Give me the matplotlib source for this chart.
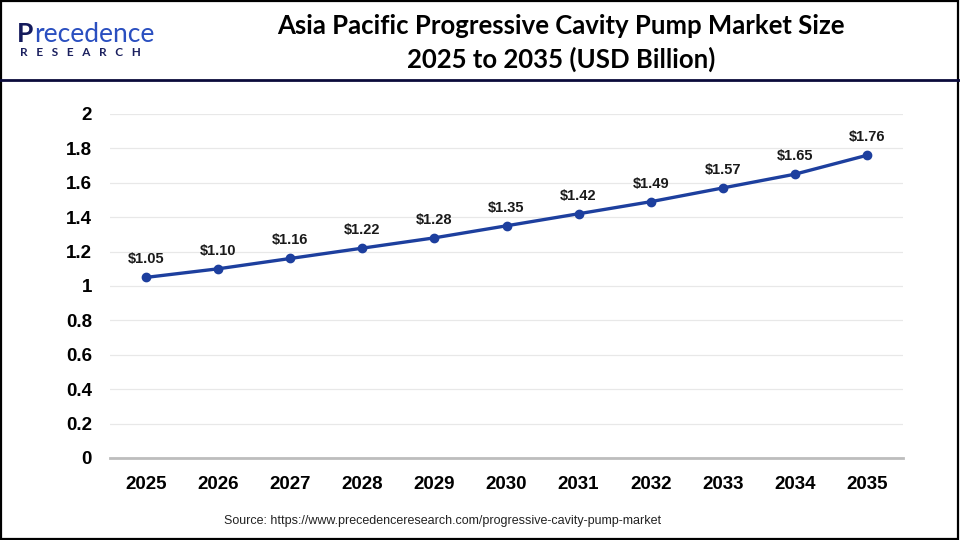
import matplotlib.pyplot as plt
from matplotlib.lines import Line2D
from matplotlib.patches import Rectangle

# data
years = ['2025', '2026', '2027', '2028', '2029', '2030',
         '2031', '2032', '2033', '2034', '2035']
market_size = [1.05, 1.10, 1.16, 1.22, 1.28, 1.35, 1.42, 1.49, 1.57, 1.65, 1.76]
y_ticks = [0, 0.2, 0.4, 0.6, 0.8, 1, 1.2, 1.4, 1.6, 1.8, 2]
y_tick_labels = ['0', '0.2', '0.4', '0.6', '0.8', '1', '1.2', '1.4', '1.6', '1.8', '2']

title_1 = 'Asia Pacific Progressive Cavity Pump Market Size'
title_2 = '2025 to 2035 (USD Billion)'
source = 'Source: https://www.precedenceresearch.com/progressive-cavity-pump-market'

line_color = '#1d3f9e'

fig = plt.figure(figsize=(9.6, 5.4), dpi=100)
fig.patch.set_facecolor('white')

# frame around the whole picture + header rule
fig.patches.append(Rectangle((0.001, 0.002), 0.997, 0.996, transform=fig.transFigure,
                             fill=False, edgecolor='black', linewidth=1.6))
fig.lines.append(Line2D([0.0, 1.0], [1 - 80 / 540, 1 - 80 / 540], transform=fig.transFigure,
                        color='#0b0b3b', linewidth=2.0))

# logo (as text)
fig.text(17 / 960, 1 - 34 / 540, 'P', fontsize=19, color='#141a5c',
         family='Lato', fontweight='bold', ha='left', va='center')
fig.text(34 / 960, 1 - 34 / 540, 'recedence', fontsize=19, color='#2a4fc0',
         family='Lato', ha='left', va='center')
fig.text(20 / 960, 1 - 52 / 540, 'R   E   S   E   A   R   C   H', fontsize=8.5,
         color='#1a1f5e', family='Lato', fontweight='bold', ha='left', va='center')

# title
fig.text(561 / 960, 1 - 26 / 540, title_1, fontsize=18.5, fontweight='bold',
         family='Lato', ha='center', va='center', color='black')
fig.text(561 / 960, 1 - 59 / 540, title_2, fontsize=18.5, fontweight='bold',
         family='Lato', ha='center', va='center', color='black')

ax = fig.add_axes([110 / 960, 1 - 458 / 540, (903 - 110) / 960, (458 - 114) / 540])
x = list(range(len(years)))
ax.plot(x, market_size, color=line_color, linewidth=2.4, marker='o', markersize=6,
        zorder=3)

for xi, v in zip(x, market_size):
    ax.annotate(f'${v:.2f}', (xi, v), xytext=(0, 8), textcoords='offset points',
                ha='center', va='bottom', fontsize=10.5, fontweight='bold',
                family='Liberation Sans', color='#1a1a1a')

ax.set_xlim(-0.5, len(years) - 0.5)
ax.set_ylim(0, 2)
ax.set_xticks(x)
ax.set_xticklabels(years, fontsize=13.5, fontweight='bold', family='Liberation Sans')
ax.set_yticks(y_ticks)
ax.set_yticklabels(y_tick_labels, fontsize=13.5, fontweight='bold', family='Liberation Sans')
ax.tick_params(length=0)
ax.tick_params(axis='x', pad=13)
ax.tick_params(axis='y', pad=13)

ax.grid(axis='y', color='#e8e8e8', linewidth=0.9)
ax.set_axisbelow(True)
for s in ['top', 'right', 'left']:
    ax.spines[s].set_visible(False)
ax.spines['bottom'].set_color('#bdbdbd')
ax.spines['bottom'].set_linewidth(2)

fig.text(443 / 960, 1 - 521 / 540, source, fontsize=9, family='Liberation Sans',
         ha='center', va='center', color='#222222')

fig.savefig('out.png', dpi=100)
